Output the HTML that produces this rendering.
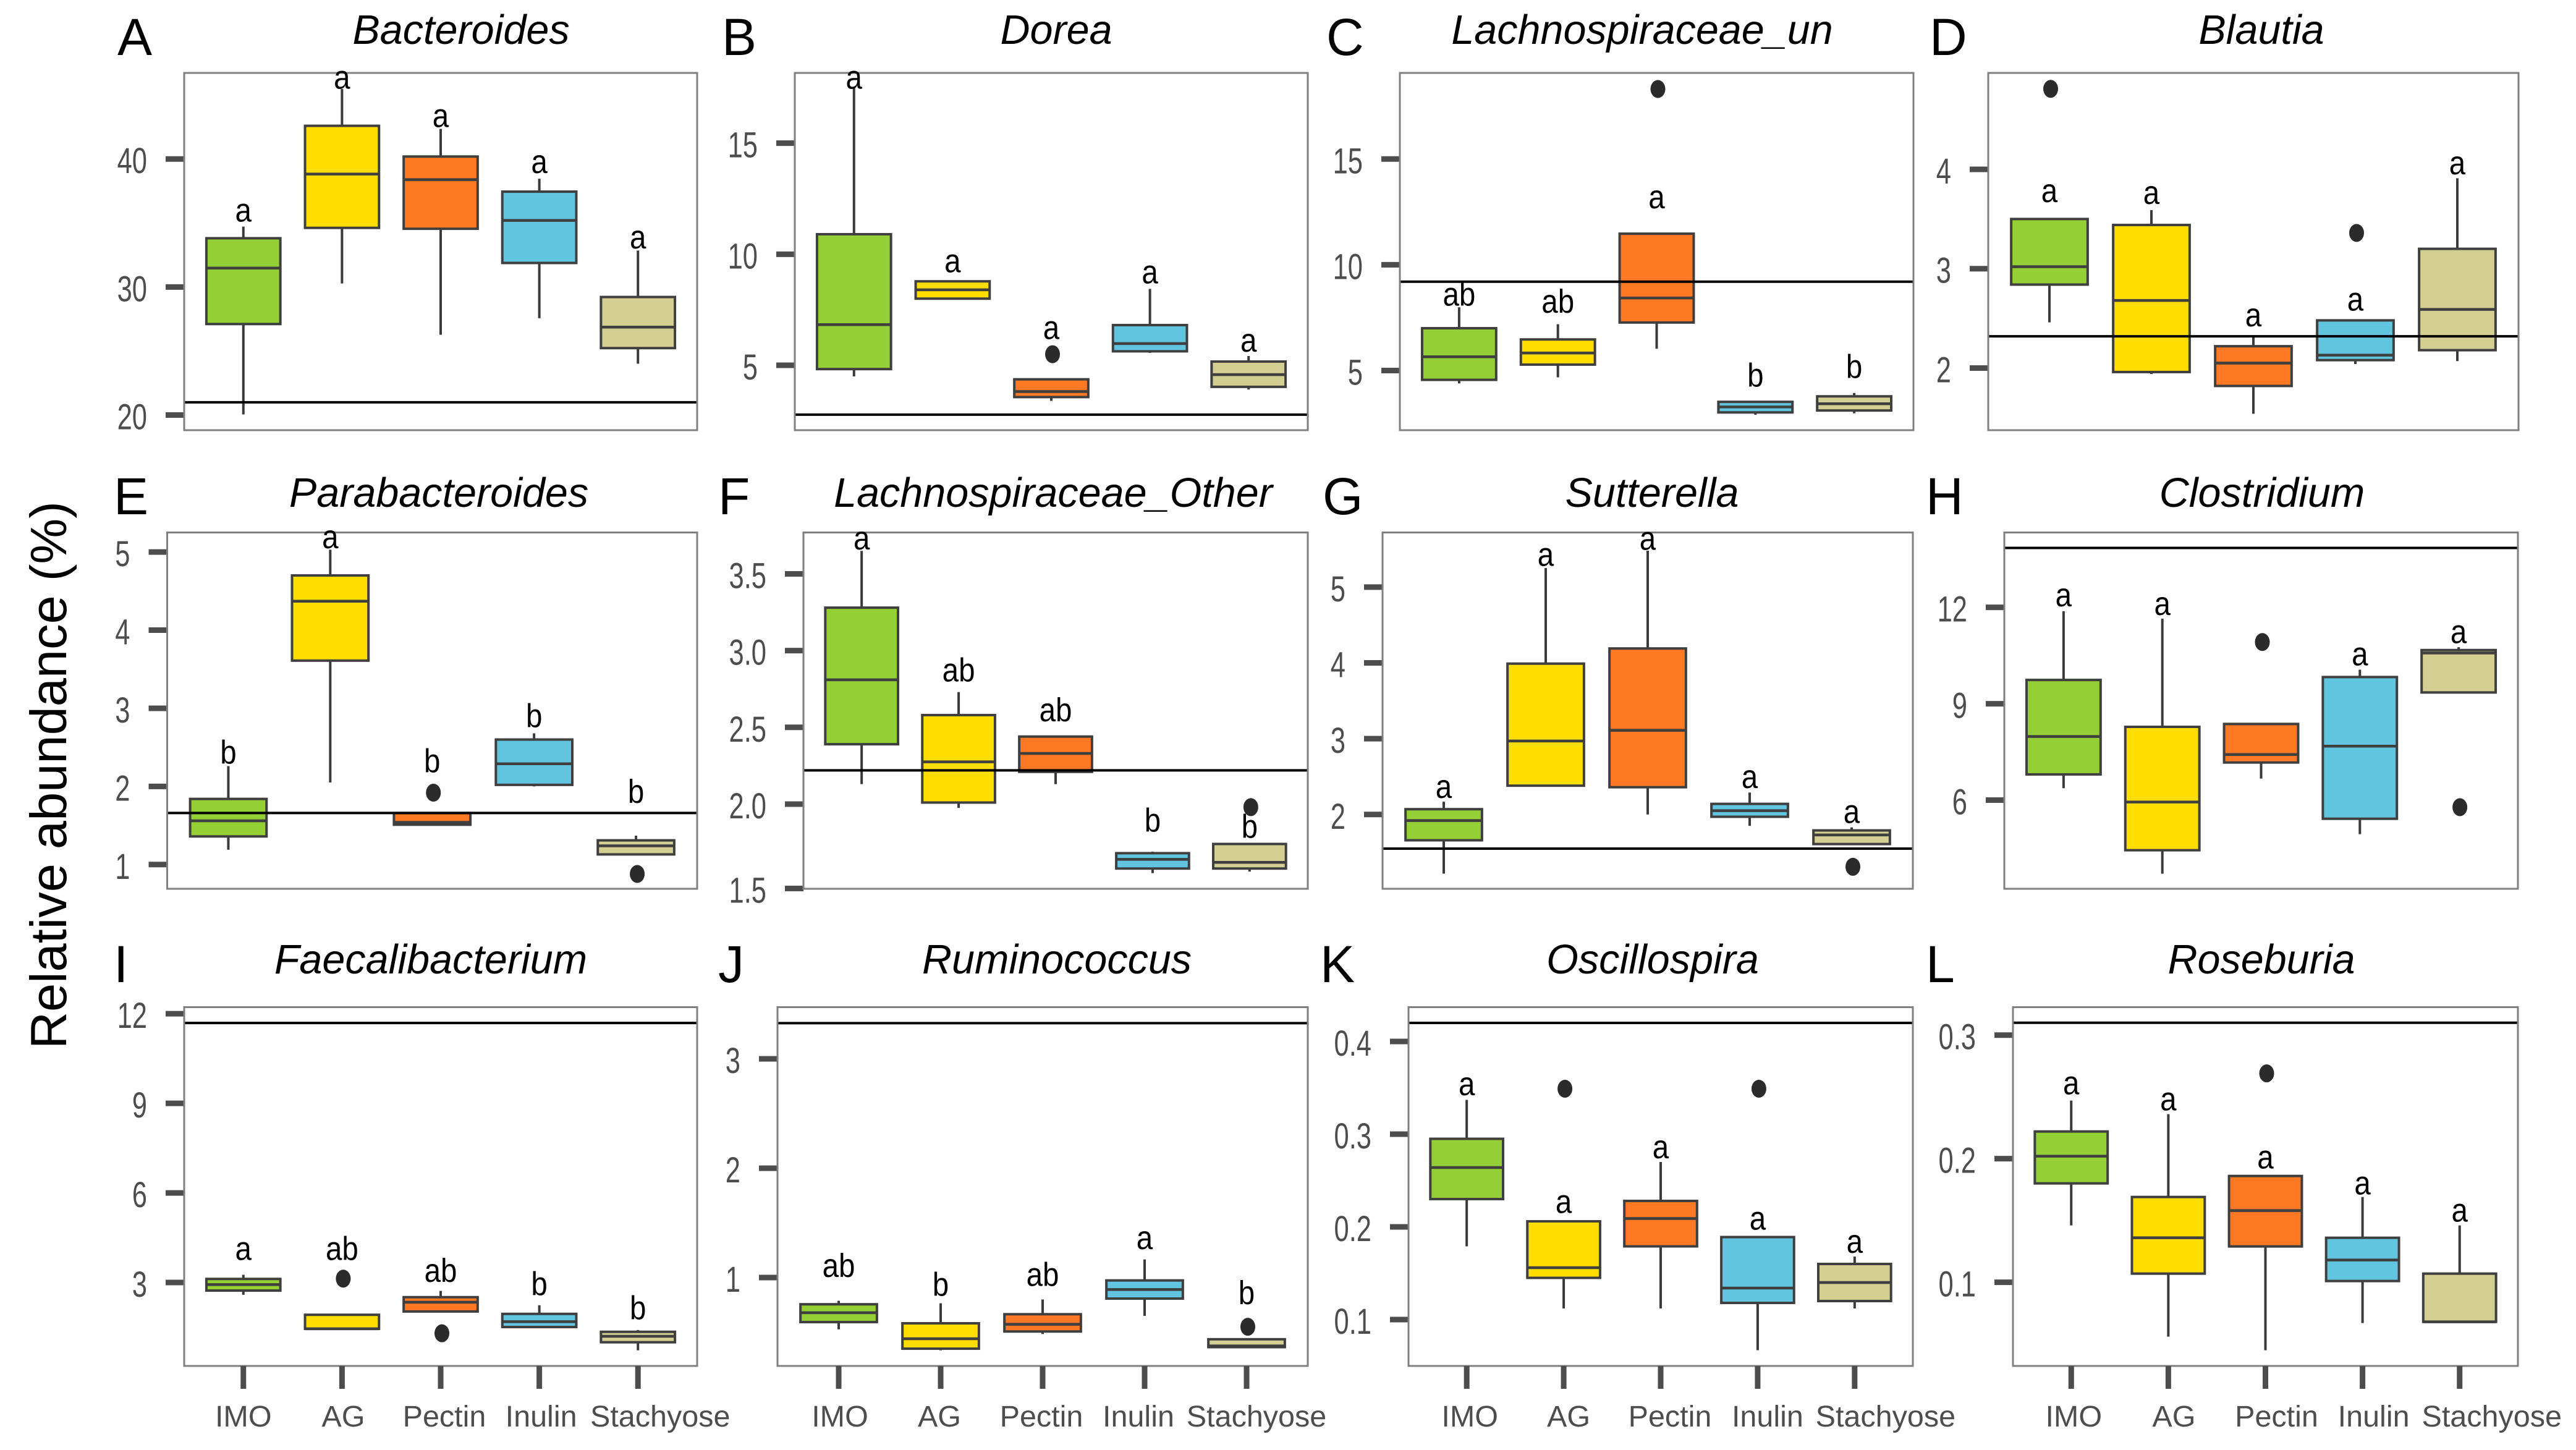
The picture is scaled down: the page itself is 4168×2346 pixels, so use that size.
<!DOCTYPE html>
<html lang="en">
<head>
<meta charset="utf-8">
<title>Relative abundance by genus</title>
<style>
html,body{margin:0;padding:0;background:#fff;}
svg{display:block;font-family:"Liberation Sans",sans-serif;}
.letter{font-size:84px;fill:#000;}
.title{font-size:66.5px;font-style:italic;fill:#000;text-anchor:middle;}
.ylabel{font-size:83px;fill:#000;}
</style>
</head>
<body>
<svg id="chart" xmlns="http://www.w3.org/2000/svg" width="4168" height="2346" viewBox="0 0 4168 2346">
<rect x="0" y="0" width="4168" height="2346" fill="#fff"/>
<text class="ylabel" transform="translate(107,1697) rotate(-90)">Relative abundance (%)</text>

<text class="letter" x="190" y="89">A</text>
<text class="letter" x="1168" y="89">B</text>
<text class="letter" x="2146" y="89">C</text>
<text class="letter" x="3122" y="89">D</text>
<text class="letter" x="184" y="832">E</text>
<text class="letter" x="1162" y="832">F</text>
<text class="letter" x="2140" y="832">G</text>
<text class="letter" x="3116" y="832">H</text>
<text class="letter" x="184" y="1589">I</text>
<text class="letter" x="1162" y="1589">J</text>
<text class="letter" x="2136" y="1589">K</text>
<text class="letter" x="3116" y="1589">L</text>

<text class="title" x="746" y="71">Bacteroides</text>
<text class="title" x="1709" y="71">Dorea</text>
<text class="title" x="2657" y="71">Lachnospiraceae_un</text>
<text class="title" x="3659" y="71">Blautia</text>
<text class="title" x="710" y="820">Parabacteroides</text>
<text class="title" x="1704" y="820">Lachnospiraceae_Other</text>
<text class="title" x="2673" y="820">Sutterella</text>
<text class="title" x="3660" y="820">Clostridium</text>
<text class="title" x="697" y="1575">Faecalibacterium</text>
<text class="title" x="1710" y="1575">Ruminococcus</text>
<text class="title" x="2674" y="1575">Oscillospira</text>
<text class="title" x="3659" y="1575">Roseburia</text>
</svg>

<script>
const categories = ["IMO","AG","Pectin","Inulin","Stachyose"];

/* A Bacteroides */
const aHigh=[34.72,45.47,42.35,38.46,32.85];
const aQ3=[33.81,42.59,40.19,37.45,29.22];
const aMedian=[31.48,38.82,38.39,35.2,26.87];
const aQ1=[27.11,34.62,34.55,31.88,25.23];
const aLow=[20.05,30.28,26.27,27.56,24.01];
const aOutliers=[[],[],[],[],[]];
const aLetters=["a","a","a","a","a"];
const aLetterAt=[35.1,45.5,42.5,38.9,33.0];
const aRef=21.0;
const aTicks=[20,30,40];
const aTickLabels=["20","30","40"];

/* B Dorea */
const bHigh=[17.48,8.78,4.37,8.44,5.42];
const bQ3=[10.9,8.78,4.37,6.81,5.17];
const bMedian=[6.83,8.4,3.82,5.98,4.58];
const bQ1=[4.83,8.0,3.57,5.63,4.03];
const bLow=[4.5,8.0,3.4,5.56,3.91];
const bOutliers=[[],[],[5.5],[],[]];
const bLetters=["a","a","a","a","a"];
const bLetterAt=[17.45,9.19,6.18,8.69,5.62];
const bRef=2.78;
const bTicks=[5,10,15];
const bTickLabels=["5","10","15"];

/* C Lachnospiraceae_un */
const cHigh=[7.99,7.19,11.47,3.52,3.94];
const cQ3=[7.0,6.47,11.47,3.52,3.78];
const cMedian=[5.65,5.83,8.43,3.28,3.43];
const cQ1=[4.56,5.28,7.27,3.02,3.11];
const cLow=[4.39,4.68,6.03,2.91,2.98];
const cOutliers=[[],[],[18.31],[],[]];
const cLetters=["ab","ab","a","b","b"];
const cLetterAt=[8.07,7.73,12.67,4.24,4.65];
const cRef=9.2;
const cTicks=[5,10,15];
const cTickLabels=["5","10","15"];

/* D Blautia */
const dHigh=[3.5,3.59,2.31,2.48,3.91];
const dQ3=[3.5,3.44,2.22,2.48,3.2];
const dMedian=[3.02,2.68,2.05,2.13,2.59];
const dQ1=[2.84,1.96,1.82,2.08,2.18];
const dLow=[2.46,1.94,1.54,2.04,2.07];
const dOutliers=[[4.81],[],[],[3.36],[]];
const dLetters=["a","a","a","a","a"];
const dLetterAt=[3.67,3.65,2.42,2.58,3.95];
const dRef=2.32;
const dTicks=[2,3,4];
const dTickLabels=["2","3","4"];

/* E Parabacteroides */
const eHigh=[2.26,5.03,1.66,2.68,1.37];
const eQ3=[1.84,4.7,1.66,2.6,1.31];
const eMedian=[1.56,4.37,1.54,2.29,1.24];
const eQ1=[1.36,3.61,1.51,2.02,1.13];
const eLow=[1.19,2.05,1.5,2.0,1.13];
const eOutliers=[[],[],[1.92],[],[0.88]];
const eLetters=["b","a","b","b","b"];
const eLetterAt=[2.29,5.05,2.18,2.76,1.79];
const eRef=1.66;
const eTicks=[1,2,3,4,5];
const eTickLabels=["1","2","3","4","5"];

/* F Lachnospiraceae_Other */
const fHigh=[3.65,2.73,2.44,1.69,1.74];
const fQ3=[3.28,2.58,2.44,1.68,1.74];
const fMedian=[2.81,2.275,2.33,1.64,1.62];
const fQ1=[2.39,2.01,2.21,1.58,1.58];
const fLow=[2.13,1.975,2.13,1.55,1.56];
const fOutliers=[[],[],[],[],[1.98]];
const fLetters=["a","ab","ab","b","b"];
const fLetterAt=[3.66,2.8,2.54,1.82,1.78];
const fRef=2.22;
const fTicks=[1.45,2,2.5,3,3.5];
const fTickLabels=["1.5","2.0","2.5","3.0","3.5"];

/* G Sutterella */
const gHigh=[2.17,5.25,5.48,2.29,1.83];
const gQ3=[2.07,3.99,4.19,2.14,1.79];
const gMedian=[1.92,2.97,3.11,2.05,1.73];
const gQ1=[1.66,2.38,2.36,1.97,1.61];
const gLow=[1.22,2.38,2.0,1.85,1.61];
const gOutliers=[[],[],[],[],[1.31]];
const gLetters=["a","a","a","a","a"];
const gLetterAt=[2.22,5.28,5.49,2.35,1.89];
const gRef=1.55;
const gTicks=[2,3,4,5];
const gTickLabels=["2","3","4","5"];

/* H Clostridium */
const hHigh=[11.88,11.65,8.37,10.06,10.76];
const hQ3=[9.74,8.28,8.37,9.83,10.67];
const hMedian=[7.98,5.94,7.42,7.68,10.58];
const hQ1=[6.8,4.44,7.17,5.42,9.35];
const hLow=[6.37,3.71,6.67,4.94,9.35];
const hOutliers=[[],[],[10.92],[],[5.78]];
const hLetters=["a","a","","a","a"];
const hLetterAt=[12.03,11.76,0,10.19,10.89];
const hRef=13.85;
const hTicks=[6,9,12];
const hTickLabels=["6","9","12"];

/* I Faecalibacterium */
const iHigh=[3.26,1.92,2.72,2.24,1.41];
const iQ3=[3.12,1.92,2.51,1.95,1.35];
const iMedian=[2.93,1.45,2.34,1.69,1.2];
const iQ1=[2.73,1.45,2.03,1.51,1.0];
const iLow=[2.59,1.44,2.03,1.51,0.73];
const iOutliers=[[],[3.13],[1.3],[],[]];
const iLetters=["a","ab","ab","b","b"];
const iLetterAt=[3.76,3.76,3.02,2.58,1.77];
const iRef=11.69;
const iTicks=[3,6,9,12];
const iTickLabels=["3","6","9","12"];

/* J Ruminococcus */
const jHigh=[0.788,0.765,0.8,1.166,0.436];
const jQ3=[0.756,0.582,0.665,0.974,0.436];
const jMedian=[0.679,0.441,0.573,0.891,0.375];
const jQ1=[0.593,0.35,0.507,0.808,0.364];
const jLow=[0.527,0.335,0.484,0.65,0.36];
const jOutliers=[[],[],[],[],[0.55]];
const jLetters=["ab","b","ab","a","b"];
const jLetterAt=[1.006,0.834,0.923,1.26,0.756];
const jRef=3.327;
const jTicks=[1,2,3];
const jTickLabels=["1","2","3"];

/* K Oscillospira */
const kHigh=[0.337,0.206,0.27,0.189,0.168];
const kQ3=[0.295,0.206,0.228,0.189,0.16];
const kMedian=[0.264,0.156,0.209,0.134,0.14];
const kQ1=[0.23,0.145,0.179,0.118,0.12];
const kLow=[0.179,0.112,0.112,0.067,0.112];
const kOutliers=[[],[0.349],[],[0.349],[]];
const kLetters=["a","a","a","a","a"];
const kLetterAt=[0.342,0.215,0.274,0.197,0.172];
const kRef=0.42;
const kTicks=[0.1,0.2,0.3,0.4];
const kTickLabels=["0.1","0.2","0.3","0.4"];

/* L Roseburia */
const lHigh=[0.247,0.236,0.186,0.169,0.146];
const lQ3=[0.222,0.169,0.186,0.136,0.107];
const lMedian=[0.202,0.136,0.158,0.118,0.068];
const lQ1=[0.18,0.107,0.129,0.101,0.068];
const lLow=[0.146,0.056,0.045,0.067,0.068];
const lOutliers=[[],[],[0.269],[],[]];
const lLetters=["a","a","a","a","a"];
const lLetterAt=[0.252,0.239,0.192,0.171,0.149];
const lRef=0.31;
const lTicks=[0.1,0.2,0.3];
const lTickLabels=["0.1","0.2","0.3"];

/* colours and panel geometry (layout only, not data) */
const fills={IMO:"#94cf35",AG:"#ffdd00",Pectin:"#ff7823",Inulin:"#62c5df",Stachyose:"#d3cf92"};
const ROW1={top:118,bottom:696}, ROW2={top:861.5,bottom:1438}, ROW3={top:1629.5,bottom:2210};

const panels=[
 {id:"bacteroides",left:298,right:1128,row:ROW1,domain:[18.82,46.72],hi:aHigh,q3:aQ3,med:aMedian,q1:aQ1,lo:aLow,out:aOutliers,let:aLetters,letAt:aLetterAt,ref:aRef,ticks:aTicks,tickText:aTickLabels},
 {id:"dorea",left:1286,right:2116,row:ROW1,domain:[2.08,18.16],hi:bHigh,q3:bQ3,med:bMedian,q1:bQ1,lo:bLow,out:bOutliers,let:bLetters,letAt:bLetterAt,ref:bRef,ticks:bTicks,tickText:bTickLabels},
 {id:"lachnospiraceae-un",left:2265,right:3096,row:ROW1,domain:[2.18,19.07],hi:cHigh,q3:cQ3,med:cMedian,q1:cQ1,lo:cLow,out:cOutliers,let:cLetters,letAt:cLetterAt,ref:cRef,ticks:cTicks,tickText:cTickLabels},
 {id:"blautia",left:3217,right:4075,row:ROW1,domain:[1.375,4.97],hi:dHigh,q3:dQ3,med:dMedian,q1:dQ1,lo:dLow,out:dOutliers,let:dLetters,letAt:dLetterAt,ref:dRef,ticks:dTicks,tickText:dTickLabels},
 {id:"parabacteroides",left:270.5,right:1128,row:ROW2,domain:[0.69,5.25],hi:eHigh,q3:eQ3,med:eMedian,q1:eQ1,lo:eLow,out:eOutliers,let:eLetters,letAt:eLetterAt,ref:eRef,ticks:eTicks,tickText:eTickLabels},
 {id:"lachnospiraceae-other",left:1300,right:2116,row:ROW2,domain:[1.448,3.77],hi:fHigh,q3:fQ3,med:fMedian,q1:fQ1,lo:fLow,out:fOutliers,let:fLetters,letAt:fLetterAt,ref:fRef,ticks:fTicks,tickText:fTickLabels},
 {id:"sutterella",left:2237,right:3095,row:ROW2,domain:[1.02,5.72],hi:gHigh,q3:gQ3,med:gMedian,q1:gQ1,lo:gLow,out:gOutliers,let:gLetters,letAt:gLetterAt,ref:gRef,ticks:gTicks,tickText:gTickLabels},
 {id:"clostridium",left:3243,right:4074,row:ROW2,domain:[3.24,14.33],hi:hHigh,q3:hQ3,med:hMedian,q1:hQ1,lo:hLow,out:hOutliers,let:hLetters,letAt:hLetterAt,ref:hRef,ticks:hTicks,tickText:hTickLabels},
 {id:"faecalibacterium",left:298,right:1128,row:ROW3,domain:[0.207,12.22],hi:iHigh,q3:iQ3,med:iMedian,q1:iQ1,lo:iLow,out:iOutliers,let:iLetters,letAt:iLetterAt,ref:iRef,ticks:iTicks,tickText:iTickLabels,catShift:[0,2,6,3,36]},
 {id:"ruminococcus",left:1258,right:2116,row:ROW3,domain:[0.192,3.473],hi:jHigh,q3:jQ3,med:jMedian,q1:jQ1,lo:jLow,out:jOutliers,let:jLetters,letAt:jLetterAt,ref:jRef,ticks:jTicks,tickText:jTickLabels,catShift:[2,-2,-2,-10,16]},
 {id:"oscillospira",left:2279,right:3095,row:ROW3,domain:[0.05,0.437],hi:kHigh,q3:kQ3,med:kMedian,q1:kQ1,lo:kLow,out:kOutliers,let:kLetters,letAt:kLetterAt,ref:kRef,ticks:kTicks,tickText:kTickLabels,catShift:[5,8,15,16,50]},
 {id:"roseburia",left:3257,right:4074,row:ROW3,domain:[0.0323,0.3226],hi:lHigh,q3:lQ3,med:lMedian,q1:lQ1,lo:lLow,out:lOutliers,let:lLetters,letAt:lLetterAt,ref:lRef,ticks:lTicks,tickText:lTickLabels,catShift:[4,9,18,18,52]}
];

const NS="http://www.w3.org/2000/svg";
const svg=document.getElementById("chart");

function make(tag,attrs,parent){
  const el=document.createElementNS(NS,tag);
  for(const k in attrs){el.setAttribute(k,attrs[k]);}
  parent.appendChild(el);
  return el;
}
function yScale(p){
  const d0=p.domain[0],d1=p.domain[1],top=p.row.top,bottom=p.row.bottom;
  return function(v){return bottom-(v-d0)/(d1-d0)*(bottom-top);};
}
function xScale(p){
  const step=(p.right-p.left)/(categories.length-1+1.2);
  return function(i){return p.left+(0.6+i)*step;};
}
function bandWidth(p){
  return 0.75*(p.right-p.left)/(categories.length-1+1.2);
}

panels.forEach(function(p){
  const y=yScale(p), x=xScale(p), bw=bandWidth(p);
  const g=make("g",{},svg);
  
  

  const bg=make("rect",{x:p.left,y:p.row.top,width:p.right-p.left,height:p.row.bottom-p.row.top,fill:"#fff"},g);
  
  

  p.ticks.forEach(function(t,i){
    const mark=make("line",{x1:p.left-30,x2:p.left,y1:y(t),y2:y(t),stroke:"#4d4d4d","stroke-width":9},g);
    
    
    const lab=make("text",{transform:"translate("+(p.left-60)+","+(y(t)+23)+") scale(0.75,1)","text-anchor":"end","font-size":58,fill:"#4d4d4d"},g);
    lab.textContent=p.tickText[i];
    
    
  });

  categories.forEach(function(cat,i){
    const cx=x(i);
    const box=make("g",{},g);
    
    

    const wHi=make("line",{x1:cx,x2:cx,y1:y(p.hi[i]),y2:y(p.q3[i]),stroke:"#3a3a3a","stroke-width":4},box);
    
    
    const wLo=make("line",{x1:cx,x2:cx,y1:y(p.q1[i]),y2:y(p.lo[i]),stroke:"#3a3a3a","stroke-width":4},box);
    
    

    const iqr=make("rect",{x:cx-bw/2,y:y(p.q3[i]),width:bw,height:y(p.q1[i])-y(p.q3[i]),fill:fills[cat],stroke:"#3f3f3f","stroke-width":4},box);
    
    

    const med=make("line",{x1:cx-bw/2,x2:cx+bw/2,y1:y(p.med[i]),y2:y(p.med[i]),stroke:"#3f3f3f","stroke-width":4.5},box);
    
    

    p.out[i].forEach(function(v){
      const o=make("ellipse",{cx:cx+2,cy:y(v),rx:12,ry:14.5,fill:"#2b2b2b"},box);
      
      
    });
  });

  const ref=make("line",{x1:p.left,x2:p.right,y1:y(p.ref),y2:y(p.ref),stroke:"#000","stroke-width":4},g);
  
  

  const frame=make("rect",{x:p.left,y:p.row.top,width:p.right-p.left,height:p.row.bottom-p.row.top,fill:"none",stroke:"#7f7f7f","stroke-width":3},g);
  
  

  categories.forEach(function(cat,i){
    if(p.let[i]){
      const s=make("text",{transform:"translate("+x(i)+","+y(p.letAt[i])+") scale(0.88,1)","text-anchor":"middle","font-size":54,fill:"#000"},g);
      s.textContent=p.let[i];
      
      
    }
    if(p.catShift){
      const tk=make("line",{x1:x(i),x2:x(i),y1:p.row.bottom,y2:p.row.bottom+37,stroke:"#4d4d4d","stroke-width":9},g);
      
      
      const c=make("text",{x:x(i)+p.catShift[i],y:p.row.bottom+98,"text-anchor":"middle","font-size":48.5,fill:"#4d4d4d"},g);
      c.textContent=cat;
      
      
    }
  });
});
</script>
</body>
</html>
